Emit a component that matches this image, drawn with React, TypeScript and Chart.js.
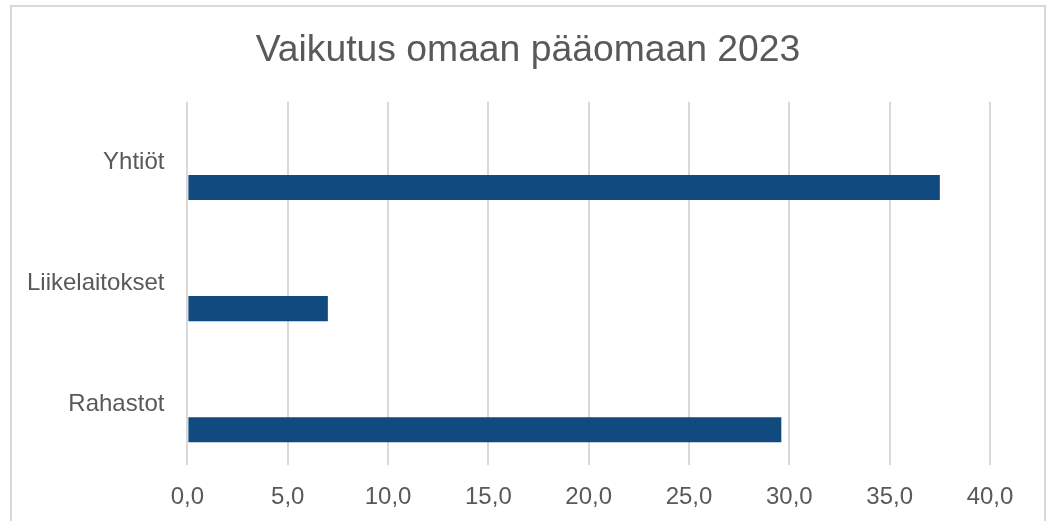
import React, { useEffect, useRef } from "react";
import { Chart, registerables } from "chart.js";

Chart.register(...registerables);

const chartTitle = "Vaikutus omaan pääomaan 2023";
const categories = ["Yhtiöt", "Liikelaitokset", "Rahastot"];
const emptySeriesA: (number | null)[] = [null, null, null];
const emptySeriesB: (number | null)[] = [null, null, null];
const values2023 = [37.5, 7.0, 29.6];
const xTickLabels = ["0,0", "5,0", "10,0", "15,0", "20,0", "25,0", "30,0", "35,0", "40,0"];

const FONT = "'Liberation Sans', Arial, sans-serif";
const TEXT = "#595959";
const BAR = "#114a7e";
const GRID = "#d9d9d9";

export default function App() {
  const ref = useRef<HTMLCanvasElement | null>(null);

  useEffect(() => {
    if (!ref.current) return;
    const chart = new Chart(ref.current, {
      type: "bar",
      data: {
        labels: categories,
        datasets: [
          { label: "A", data: emptySeriesA, backgroundColor: BAR },
          { label: "B", data: emptySeriesB, backgroundColor: BAR },
          { label: "2023", data: values2023, backgroundColor: BAR },
        ],
      },
      options: {
        indexAxis: "y",
        responsive: false,
        animation: false,
        categoryPercentage: 0.622,
        barPercentage: 1,
        layout: { padding: { left: 4, right: 1, top: 0, bottom: -9 } },
        plugins: {
          legend: { display: false },
          tooltip: { enabled: false },
          title: {
            display: true,
            text: chartTitle,
            color: TEXT,
            font: { family: FONT, size: 37.3, weight: "normal", lineHeight: 1.2 },
            padding: { top: 28, bottom: 29 },
          },
        },
        scales: {
          x: {
            min: 0,
            max: 40,
            ticks: {
              stepSize: 5,
              color: TEXT,
              font: { family: FONT, size: 24 },
              padding: 18,
              callback: (_v: any, i: number) => xTickLabels[i],
            },
            grid: { color: GRID, lineWidth: 2, drawTicks: false },
            border: { display: false },
          },
          y: {
            ticks: {
              color: TEXT,
              font: { family: FONT, size: 24 },
              padding: 23,
            },
            grid: { display: false, drawTicks: false },
            border: { display: false },
          },
          yRightSpace: {
            type: "category",
            position: "right",
            labels: categories,
            ticks: { display: false },
            grid: { display: false, drawTicks: false },
            border: { display: false },
            afterFit: (s: any) => {
              s.width = 62;
            },
          },
        },
      } as any,
    });
    return () => chart.destroy();
  }, []);

  return (
    <>
      <div
        style={{
          position: "absolute",
          left: 10,
          top: 5,
          width: 1036,
          height: 516,
          boxSizing: "border-box",
          border: "2px solid #d9d9d9",
          borderBottom: "none",
          background: "#fff",
        }}
      />
      <canvas
        ref={ref}
        width={1053}
        height={521}
        style={{ position: "absolute", left: 0, top: 0, display: "block" }}
      />
    </>
  );
}
